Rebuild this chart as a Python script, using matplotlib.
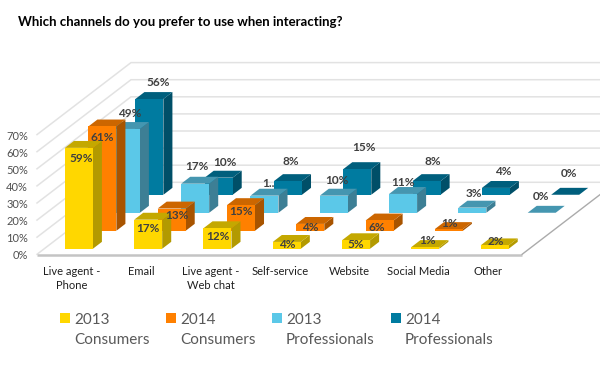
#!/usr/bin/python
import matplotlib
matplotlib.use('Agg')
import matplotlib.pyplot as plt
from matplotlib.patches import Polygon

categories = ['Live agent -\nPhone', 'Email', 'Live agent -\nWeb chat', 'Self-service',
              'Website', 'Social Media', 'Other']
cons_2013 = [59, 17, 12, 4, 5, 1, 2]
cons_2014 = [61, 13, 15, 4, 6, 1, None]
prof_2013 = [49, 17, 10, 10, 11, 3, 0]
prof_2014 = [56, 10, 8, 15, 8, 4, 0]
prof_2013_text = ['49%', '17%', '1..', '10%', '11%', '3%', '0%']
legend_labels = ['2013\nConsumers', '2014\nConsumers', '2013\nProfessionals', '2014\nProfessionals']
ticks = [0, 10, 20, 30, 40, 50, 60, 70]

# front, top, side colours per series
styles = [('#FFD700', '#C4A800', '#B39A00'),
          ('#FF8000', '#CC6600', '#A85400'),
          ('#5BC8E8', '#4596B0', '#3D7F95'),
          ('#007BA0', '#005F7D', '#004F68')]

# label nudges in px from the middle of the bar's front top edge
nudge = [[(2, 9), (0, 7), (0, 7), (0, 1), (0, 3), (2, -8), (1, -5)],
         [(0, 10), (5, 5), (0, 5), (0, 2), (-3, 6), (1, -7), None],
         [(4, -17), (2, -19), (4, -14), (3, -17), (0, -13), (2, -16), (-1, -18)],
         [(9, -18), (6, -17), (3, -21), (7, -23), (6, -21), (7, -18), (4, -23)]]

# oblique projection: category units, depth 0-1, percent
X0, Y0 = 37.0, 254.3
CAT_W, DX, DY, PCT = 69.3, 94.0, 72.0, 1.71
BAR_W = 28.0 / CAT_W
BAR_D = 0.096
TXT_DY = 1.5  # Lato sits a bit high with va=center

def proj(x, d, z):
    return (X0 + CAT_W * x + DX * d, Y0 - DY * d - PCT * z)

fig = plt.figure(figsize=(6, 3.67), dpi=100)
ax = fig.add_axes([0, 0, 1, 1])
ax.set_xlim(0, 600)
ax.set_ylim(367, 0)
ax.axis('off')
plt.rcParams['font.family'] = ['Lato', 'DejaVu Sans']

# grid on back and left walls
n = len(categories)
for t in ticks:
    a, b, c = proj(0, 0, t), proj(0, 1, t), proj(n, 1, t)
    ax.plot([a[0], b[0], c[0]], [a[1], b[1], c[1]], color='#E2E2E2', lw=1.1, zorder=1, solid_joinstyle='miter')
    ax.text(28, a[1] + TXT_DY, '%d%%' % t, ha='right', va='center', fontsize=8, color='#505050', zorder=9)

# floor edges
f0, f1, f2 = proj(0, 0, 0), proj(n, 0, 0), proj(n, 1, 0)
ax.plot([f0[0], f1[0]], [f0[1] + 0.5, f1[1] + 0.5], color='#C4C4C4', lw=1.8, zorder=2, solid_capstyle='butt')
ax.plot([f1[0], f2[0]], [f1[1], f2[1]], color='#ABABAB', lw=1.0, zorder=2)

series = [cons_2013, cons_2014, prof_2013, prof_2014]
zo = 3
for s in range(3, -1, -1):
    front, top, side = styles[s]
    d0 = (s + 0.5) / 4.0 - BAR_D / 2.0
    d1 = d0 + BAR_D
    for i, v in enumerate(series[s]):
        if v is None:
            continue
        x0 = i + (1 - BAR_W) / 2.0
        x1 = x0 + BAR_W
        faces = [([proj(x1, d0, 0), proj(x1, d1, 0), proj(x1, d1, v), proj(x1, d0, v)], side),
                 ([proj(x0, d0, v), proj(x1, d0, v), proj(x1, d1, v), proj(x0, d1, v)], top),
                 ([proj(x0, d0, 0), proj(x1, d0, 0), proj(x1, d0, v), proj(x0, d0, v)], front)]
        for pts, col in faces:
            ax.add_patch(Polygon(pts, closed=True, facecolor=col, edgecolor='none', zorder=zo))
        zo += 0.01

# data labels over everything
for s in range(4):
    d0 = (s + 0.5) / 4.0 - BAR_D / 2.0
    for i, v in enumerate(series[s]):
        if v is None:
            continue
        px, py = proj(i + 0.5, d0, v)
        txt = prof_2013_text[i] if s == 2 else '%d%%' % v
        ax.text(px + nudge[s][i][0], py + nudge[s][i][1] + TXT_DY, txt, ha='center', va='center',
                fontsize=8.5, fontweight='bold', color='#404040', zorder=10)

# category labels
for i, c in enumerate(categories):
    px = proj(i + 0.5, 0, 0)[0] + 0.5
    ax.text(px, 270 + TXT_DY, c.split('\n')[0], ha='center', va='center', fontsize=8, color='#1F1F1F')
    if '\n' in c:
        ax.text(px, 284 + TXT_DY, c.split('\n')[1], ha='center', va='center', fontsize=8, color='#1F1F1F')

# legend
leg_x = [60, 166, 272, 391]
for k, lab in enumerate(legend_labels):
    ax.add_patch(Polygon([(leg_x[k], 313), (leg_x[k] + 10, 313), (leg_x[k] + 10, 323), (leg_x[k], 323)],
                         closed=True, facecolor=styles[k][0], edgecolor='none'))
    l1, l2 = lab.split('\n')
    ax.text(leg_x[k] + 14, 318 + TXT_DY, l1, ha='left', va='center', fontsize=11, color='#595959')
    ax.text(leg_x[k] + 14, 338 + TXT_DY, l2, ha='left', va='center', fontsize=11, color='#595959')

ax.text(18, 20 + TXT_DY, 'Which channels do you prefer to use when interacting?', ha='left', va='center',
        fontsize=9.5, fontweight='bold', color='black')

plt.savefig('out.png', dpi=100)
